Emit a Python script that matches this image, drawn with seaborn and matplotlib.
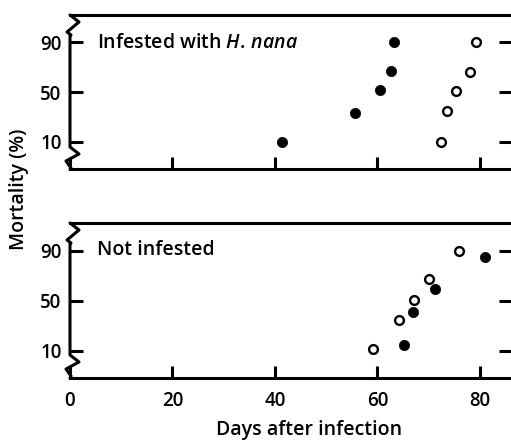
import math
import numpy as np
import pandas as pd
import matplotlib
matplotlib.use("Agg")
import matplotlib.pyplot as plt
import seaborn as sns

# ---- data ----
top_filled_days = [41.3, 55.6, 60.4, 62.6, 63.2]
top_filled_mort = [10, 30, 52, 71, 90]
top_open_days = [72.4, 73.6, 75.4, 78.0, 79.2]
top_open_mort = [10, 31, 51, 70, 90]
bot_open_days = [59.1, 64.1, 67.2, 70.1, 76.0]
bot_open_mort = [11, 31, 51, 71, 90]
bot_filled_days = [65.2, 67.0, 71.3, 81.0]
bot_filled_mort = [13, 39, 62, 87]

x_ticks = [0, 20, 40, 60, 80]
y_ticks = [10, 50, 90]
panel_titles = [r"Infested with $\it{H.\,nana}$", "Not infested"]

FONT = "Open Sans"
WEIGHT = "semibold"
sns.set_style("ticks")
plt.rcParams["font.family"] = [FONT, "DejaVu Sans"]
plt.rcParams["font.weight"] = WEIGHT
plt.rcParams["mathtext.fontset"] = "custom"
plt.rcParams["mathtext.it"] = FONT + ":italic:semibold"
plt.rcParams["mathtext.rm"] = FONT + ":semibold"
for k in ["text.color", "axes.labelcolor", "xtick.color", "ytick.color",
          "axes.edgecolor"]:
    plt.rcParams[k] = "black"

# probit scale
_z = np.linspace(-6, 6, 32001)
_erf = np.vectorize(math.erf)
_p = 50.0 * (1.0 + _erf(_z / math.sqrt(2)))


def fwd(y):
    y = np.asarray(y, dtype=float)
    return np.interp(y, _p, _z)


def inv(z):
    z = np.asarray(z, dtype=float)
    return 50.0 * (1.0 + _erf(z / math.sqrt(2)))


fig = plt.figure(figsize=(5.11, 4.40), dpi=100)
W, H = 511, 440
ax_left_px, ax_right_px = 70, 511
axes_px = [(15, 169.3), (223, 378.3)]
axes = []
for top_px, bot_px in axes_px:
    ax = fig.add_axes([ax_left_px / W, 1 - bot_px / H,
                       (ax_right_px - ax_left_px) / W, (bot_px - top_px) / H])
    axes.append(ax)

datasets = [
    (top_filled_days, top_filled_mort, top_open_days, top_open_mort),
    (bot_filled_days, bot_filled_mort, bot_open_days, bot_open_mort),
]

LW = 2.2
for i, (ax, (fd, fm, od, om)) in enumerate(zip(axes, datasets)):
    dff = pd.DataFrame({"day": fd, "mort": fm})
    dfo = pd.DataFrame({"day": od, "mort": om})
    ax.set_yscale("function", functions=(fwd, inv))
    sns.scatterplot(data=dff, x="day", y="mort", ax=ax, color="black",
                    s=55, edgecolor="black", linewidth=0.5, zorder=3)
    sns.scatterplot(data=dfo, x="day", y="mort", ax=ax, facecolor="white",
                    s=40, edgecolor="black", linewidth=1.7, zorder=3)
    ax.set_xlim(0, 86.05)
    ax.set_ylim(2.35, 97.65)
    ax.set_yticks(y_ticks)
    ax.set_yticklabels([str(t) for t in y_ticks])
    ax.yaxis.set_minor_locator(matplotlib.ticker.NullLocator())
    ax.xaxis.set_minor_locator(matplotlib.ticker.NullLocator())
    ax.set_xticks(x_ticks)
    ax.set_xlabel("")
    ax.set_ylabel("")
    ax.tick_params(axis="both", which="major", direction="in", width=LW,
                   length=9, labelsize=13.5, color="black", labelcolor="black")
    ax.tick_params(axis="y", left=True, right=True, labelleft=True,
                   labelright=False, pad=6)
    ax.tick_params(axis="x", top=False, bottom=True, pad=9)
    if i == 0:
        ax.set_xticklabels([])
    for s in ["top", "bottom", "left", "right"]:
        ax.spines[s].set_linewidth(LW)
        ax.spines[s].set_color("black")
    ax.spines["right"].set_color("none")
    ax.spines["left"].set_color("none")
    ax.set_facecolor("white")

    # left axis line with break marks (decoration)
    h = axes_px[i][1] - axes_px[i][0]
    w = ax_right_px - ax_left_px
    pts = [(0, 0), (9, 7), (-3, 17), (1, 20), (0, 21),
           (0, 132), (9, 139), (-4, 146), (1, 153), (0, h)]
    xs = [p[0] / w for p in pts]
    ys = [1 - p[1] / h for p in pts]
    ax.plot(xs, ys, transform=ax.transAxes, color="black", lw=LW,
            clip_on=False, solid_joinstyle="round", zorder=4)

    ax.text((97 - ax_left_px) / w, 1 - (43 - 15) / h if i == 0 else 1 - (250 - 223) / h,
            panel_titles[i], transform=ax.transAxes, fontsize=14,
            va="center", ha="left")

fig.text(19 / W, 1 - 189 / H, "Mortality (%)", rotation=90, fontsize=14,
         va="center", ha="center")
fig.text(309 / W, 1 - 435 / H, "Days after infection", fontsize=14,
         va="baseline", ha="center")

fig.savefig("out.png", dpi=100, facecolor="white")
